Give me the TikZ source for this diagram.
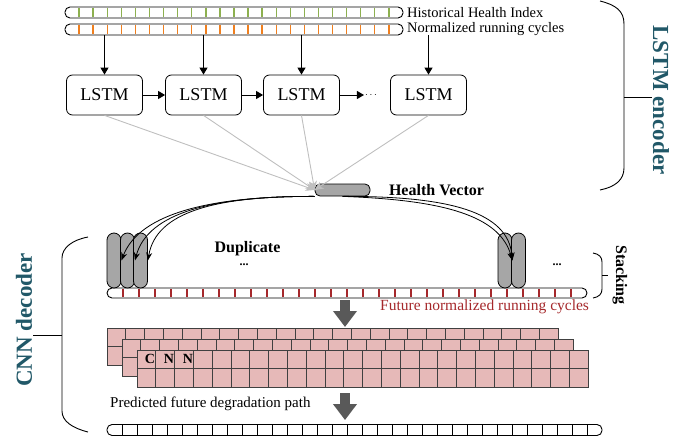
\documentclass[tikz,border=0pt]{standalone}
\usepackage{fontspec}
\setmainfont{Liberation Serif}
\usetikzlibrary{arrows.meta,calc}

\definecolor{hhigreen}{HTML}{8DB04F}
\definecolor{nrcorange}{HTML}{F07F1E}
\definecolor{fnrcred}{HTML}{A5282B}
\definecolor{cnnpink}{HTML}{E6B9B8}
\definecolor{capgray}{HTML}{A6A6A6}
\definecolor{bigarrowgray}{HTML}{595959}
\definecolor{blocklabel}{HTML}{215868}

\tikzset{
  lstm/.style={draw, rounded corners=6pt, minimum width=76pt, minimum height=40pt, inner sep=0pt, line width=0.8pt, font=\fontsize{18}{20}\selectfont},
  seqbar/.style={draw, rounded corners=5pt, inner sep=0pt, line width=0.9pt, minimum height=11pt},
  capsule/.style={draw, fill=capgray, rounded corners=7pt, minimum width=14pt, minimum height=55pt, inner sep=0pt, line width=0.8pt},
  flow/.style={line width=1pt, -{Triangle[width=8pt,length=7pt]}},
  feed/.style={color=black!25, line width=0.9pt, -{Stealth[width=8pt,length=9pt]}},
  dup/.style={line width=0.8pt, -{Stealth[width=6pt,length=8pt]}},
  bigarrow/.style={color=bigarrowgray, line width=10pt, -{Triangle[width=23pt,length=16pt]}},
  cell/.style={fill=cnnpink, draw=black!75, line width=0.9pt},
  lab/.style={inner sep=0pt, font=\fontsize{14.5}{16}\selectfont},
  boldlab/.style={inner sep=0pt, font=\bfseries\fontsize{16}{18}\selectfont},
  brace/.style={line width=0.9pt},
  blockname/.style={inner sep=0pt, text=blocklabel, font=\bfseries\fontsize{23}{26}\selectfont}
}

\begin{document}
\begin{tikzpicture}[x=1pt,y=-1pt]
\useasboundingbox (0,0) rectangle (696,444);

% input sequences
\node[seqbar, minimum width=338pt] (hhi) at (234,12.5) {};
\node[seqbar, minimum width=338pt] (nrc) at (234,29.5) {};
\foreach \i in {1,...,23} {
  \draw[hhigreen, line width=1.4pt] (65+\i*14.08,8) -- (65+\i*14.08,17);
  \draw[nrcorange, line width=1.4pt] (65+\i*14.08,25) -- (65+\i*14.08,34);
}
\node[lab, anchor=west] (hhilab) at (407,12.5) {Historical Health Index};
\node[lab, anchor=west] (nrclab) at (407,29.5) {Normalized running cycles};

% encoder
\node[lstm] (lstm1) at (104.5,95) {LSTM};
\node[lstm] (lstm2) at (203.5,95) {LSTM};
\node[lstm] (lstm3) at (301.5,95) {LSTM};
\node[inner sep=1pt] (more) at (371,95) {$\cdots$};
\node[lstm] (lstm4) at (428.5,95) {LSTM};
\foreach \i in {1,...,4} \draw[flow] (lstm\i |- nrc.south) -- (lstm\i.north);
\draw[flow] (lstm1) -- (lstm2);
\draw[flow] (lstm2) -- (lstm3);
\draw[flow] (lstm3) -- (more);

\node[draw, fill=capgray, rounded corners=5pt, minimum width=55pt, minimum height=12pt, inner sep=0pt, line width=0.8pt] (hv) at (342.5,190) {};
\foreach \i in {1,...,4} \draw[feed] (lstm\i.south) -- (hv.west);
\node[boldlab] (hvlab) at (436.5,190) {Health Vector};

% duplicate and stack
\node[seqbar, minimum width=480pt, minimum height=10pt] (fnrc) at (347,293) {};
\foreach \i in {1,...,29} \draw[fnrcred, line width=1.4pt] (107+\i*16,289) -- (107+\i*16,297);
\foreach \n/\x in {c1/114,c2/127.5,c3/140.5,d1/505,d2/518.5} \node[capsule] (\n) at (\x,260.5) {};
\foreach \n/\c in {c1/0,c2/8,c3/16} \draw[dup] (hv.south west) .. controls (215,196) and (140+\c,212) .. (\n.east);
\draw[dup] (hv.south) .. controls (450,196) and (508,212) .. (d1.east);
\draw[dup] (hv.south) .. controls (445,200) and (500,216) .. (d1.east);
\node[boldlab] (duplab) at (247.5,249) {Duplicate};
\node[inner sep=0pt, font=\bfseries\fontsize{12}{14}\selectfont] (dupdots) at (244,265) {...};
\node[inner sep=0pt, font=\bfseries\fontsize{12}{14}\selectfont] (stackdots) at (557,265) {...};
\node[lab, font=\fontsize{15.5}{17}\selectfont, text=fnrcred, anchor=west] (fnrclab) at (380,307) {Future normalized running cycles};

% CNN feature maps
\foreach \dx/\dy in {0/0,15/11,30/22}
  \foreach \c in {0,...,23}
    \foreach \r in {0,1}
      \draw[cell] (107+\dx+\c*18.8,328+\dy+\r*18.5) rectangle ++(18.8,18.5);
\foreach \l/\x in {C/150,N/169,N/188} \node[boldlab, font=\bfseries\fontsize{14}{16}\selectfont] (cnn\x) at (\x,359) {\l};

\coordinate (cnntop) at (345,327);
\coordinate (cnnbot) at (345,393);
\draw[bigarrow] ([yshift=-2pt]fnrc.south -| cnntop) -- (cnntop);

% output sequence
\node[seqbar, minimum width=495pt] (pfd) at (354.5,430) {};
\foreach \i in {1,...,32} \draw[line width=1pt] (107+\i*15,425) -- (107+\i*15,435);
\node[lab, font=\fontsize{15}{17}\selectfont, anchor=base west] (pfdlab) at (110,407) {Predicted future degradation path};
\draw[bigarrow, shorten >=4pt] (cnnbot) -- (pfd.north -| cnnbot);

% braces
\draw[brace] (600,1) .. controls (616,5) and (624,11) .. (624,24) -- (624,168) .. controls (624,180) and (615,187) .. (600,190);
\draw[brace] (624,97) -- (652,97);
\node[blockname, rotate=-90] (enclab) at (661,100) {LSTM encoder}; %encoder label
\draw[brace] (88,237) .. controls (72,240) and (62,248) .. (62,258) -- (62,411) .. controls (62,421) and (72,428) .. (88,432);
\draw[brace] (33,335) -- (62,335);
\node[blockname, rotate=90] (declab) at (24,320) {CNN decoder}; %decoder label
\draw[brace] (593,253) .. controls (599,254) and (602,257) .. (602,262) -- (602,289) .. controls (602,294) and (599,297) .. (593,298);
\draw[brace] (602,275) -- (608,275);
\node[boldlab, rotate=-90] (stacklab) at (620,275) {Stacking};
\end{tikzpicture}
\end{document}
